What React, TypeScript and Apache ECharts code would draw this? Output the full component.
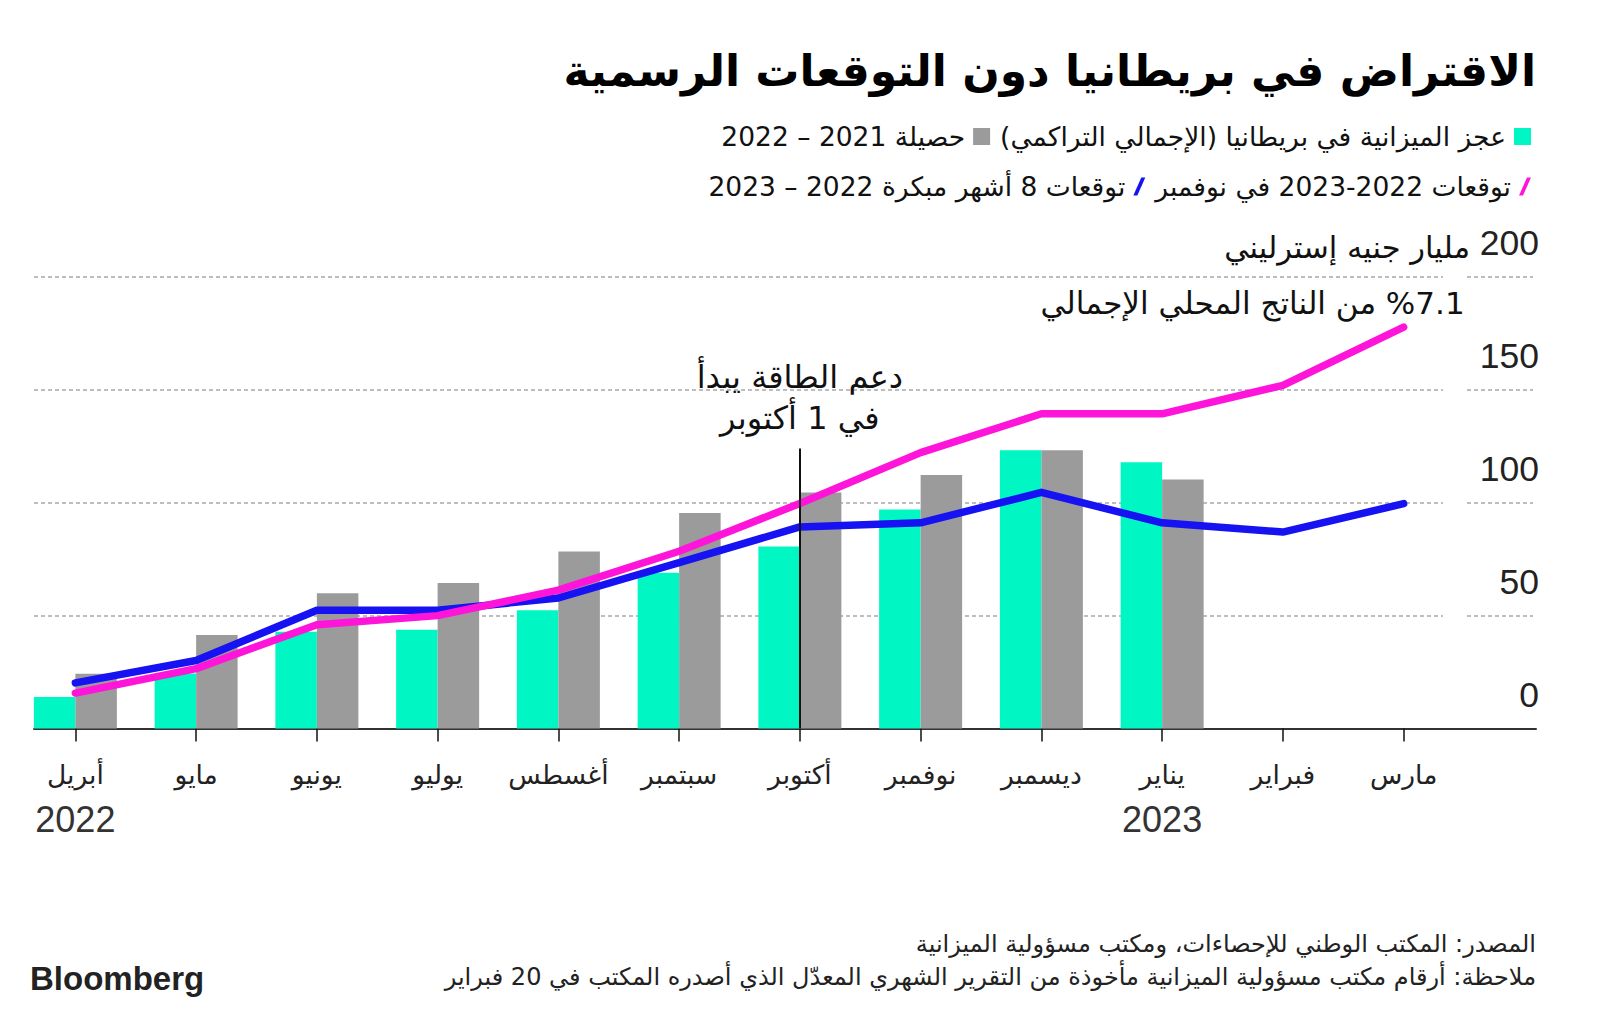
import React, { useEffect, useRef } from 'react';
import * as echarts from 'echarts';

// ---------- data ----------
const months = ['أبريل', 'مايو', 'يونيو', 'يوليو', 'أغسطس', 'سبتمبر', 'أكتوبر', 'نوفمبر', 'ديسمبر', 'يناير', 'فبراير', 'مارس'];
const years = ['2022', '', '', '', '', '', '', '', '', '2023', '', ''];
// cumulative borrowing 2022-23 (teal bars), £bn
const deficit2223 = [14.0, 24.4, 42.9, 43.7, 52.4, 69.0, 80.6, 97.0, 123.3, 117.9, null, null];
// cumulative borrowing 2021-22 (grey bars), £bn
const outturn2122 = [24.2, 41.4, 59.9, 64.4, 78.4, 95.5, 104.5, 112.3, 123.3, 110.3, null, null];
// OBR November forecast for 2022-23 (magenta line)
const forecastNov = [15.7, 26.5, 46.0, 50.0, 61.3, 78.5, 99.7, 122.2, 139.4, 139.4, 152.0, 177.8];
// OBR forecast 8 months earlier (blue line)
const forecastEarly = [20.2, 30.1, 52.4, 52.4, 57.8, 73.5, 89.3, 91.1, 104.6, 91.1, 87.0, 99.6];
const yMin = 0;
const yMax = 200;
const yStep = 50;

const NAME_TEAL = 'عجز الميزانية في بريطانيا (الإجمالي التراكمي)';
const NAME_GRAY = 'حصيلة 2021 – 2022';
const NAME_PINK = 'توقعات 2022-2023 في نوفمبر';
const NAME_BLUE = 'توقعات 8 أشهر مبكرة 2022 – 2023';

const TITLE = 'الاقتراض في بريطانيا دون التوقعات الرسمية';
const UNIT = 'مليار جنيه إسترليني';
const NOTE_ENERGY = ['دعم الطاقة يبدأ', 'في 1 أكتوبر'];
const NOTE_GDP = '%7.1 من الناتج المحلي الإجمالي';
const ENERGY_MONTH = 'أكتوبر';
const ENERGY_TOP = 124;
const SOURCE = 'المصدر: المكتب الوطني للإحصاءات، ومكتب مسؤولية الميزانية';
const NOTE = 'ملاحظة: أرقام مكتب مسؤولية الميزانية مأخوذة من التقرير الشهري المعدّل الذي أصدره المكتب في 20 فبراير';

const TEAL = '#00f7c4';
const GRAY = '#9b9b9b';
const PINK = '#ff14d9';
const BLUE = '#1712f2';

const RLM = '\u200F';
const rtl = (s: string) => RLM + s + RLM;

const AR = "'DejaVu Sans', 'Noto Sans', sans-serif";
const NUM = "'Liberation Sans', Arial, sans-serif";
const NUM_N = "'Liberation Sans Narrow', 'Liberation Sans', sans-serif";

const GRID_TOP = 277;
const GRID_H = 451.5;

export default function App() {
  const ref = useRef<HTMLDivElement>(null);
  useEffect(() => {
    document.body.style.margin = '0';
    const chart = echarts.init(ref.current!, null, { renderer: 'svg' });
    const hiddenX = (gi: number) => ({ gridIndex: gi, type: 'value', min: 0, max: 1, show: false });
    const gridY = (gi: number) => ({
      gridIndex: gi,
      type: 'value',
      min: yMin,
      max: yMax,
      interval: yStep,
      axisLine: { show: false },
      axisTick: { show: false },
      axisLabel: { show: false },
      splitLine: { show: true, showMinLine: false, lineStyle: { type: [4, 3], color: '#a8a8a8', width: 1.5 } },
    });
    const legendText = { fontSize: 26.5, fontFamily: AR, color: '#111', padding: [0, 3, 0, 0] };
    const option: any = {
      animation: false,
      backgroundColor: '#ffffff',
      grid: [
        { left: 15, width: 1449, top: GRID_TOP, height: GRID_H },
        { left: 34, width: 1409, top: GRID_TOP, height: GRID_H },
        { left: 1467, width: 66, top: GRID_TOP, height: GRID_H },
        { left: 34, width: 1502, top: GRID_TOP, height: GRID_H },
      ],
      legend: [
        {
          data: [NAME_GRAY, NAME_TEAL],
          right: 64,
          top: 118,
          align: 'right',
          icon: 'rect',
          itemWidth: 17,
          itemHeight: 17,
          itemGap: 10,
          selectedMode: false,
          formatter: (n: string) => rtl(n),
          textStyle: legendText,
        },
        {
          data: [
            { name: NAME_BLUE, icon: 'path://M8,0 L12,0 L4,18 L0,18 Z' },
            { name: NAME_PINK, icon: 'path://M8,0 L12,0 L4,18 L0,18 Z' },
          ],
          right: 64,
          top: 168,
          align: 'right',
          itemWidth: 12,
          itemHeight: 18,
          itemGap: 10,
          selectedMode: false,
          formatter: (n: string) => rtl(n),
          textStyle: legendText,
        },
      ],
      xAxis: [
        {
          gridIndex: 0,
          type: 'category',
          data: months,
          boundaryGap: true,
          axisLine: { show: false },
          axisTick: { show: true, alignWithLabel: true, length: 13, lineStyle: { color: '#111', width: 1.5 } },
          axisLabel: {
            interval: 0,
            margin: 31,
            formatter: (v: string, i: number) => `{m|${v}}` + (years[i] ? `\n{y|${years[i]}}` : ''),
            rich: {
              m: { fontSize: 26.5, fontFamily: AR, color: '#222', lineHeight: 30 },
              y: { fontSize: 36, fontFamily: NUM_N, color: '#333', lineHeight: 60 },
            },
          },
        },
        hiddenX(1),
        hiddenX(2),
        {
          gridIndex: 3,
          type: 'value',
          min: 0,
          max: 1,
          axisLine: { show: true, lineStyle: { color: '#333', width: 2 } },
          axisTick: { show: false },
          axisLabel: { show: false },
          splitLine: { show: false },
        },
      ],
      yAxis: [
        { gridIndex: 0, type: 'value', min: yMin, max: yMax, interval: yStep, show: false },
        gridY(1),
        {
          ...gridY(2),
          position: 'right',
          axisLabel: {
            show: true,
            inside: true,
            margin: -6,
            fontSize: 35.5,
            fontFamily: NUM,
            color: '#222',
            verticalAlign: 'bottom',
            lineHeight: 68,
          },
        },
        { gridIndex: 3, type: 'value', min: yMin, max: yMax, show: false },
      ],
      series: [
        {
          type: 'bar',
          name: NAME_TEAL,
          xAxisIndex: 0,
          yAxisIndex: 0,
          data: deficit2223,
          barWidth: 41.5,
          barGap: '0%',
          itemStyle: { color: TEAL },
        },
        {
          type: 'bar',
          name: NAME_GRAY,
          xAxisIndex: 0,
          yAxisIndex: 0,
          data: outturn2122,
          barWidth: 41.5,
          barGap: '0%',
          itemStyle: { color: GRAY },
        },
        {
          type: 'line',
          name: NAME_BLUE,
          xAxisIndex: 0,
          yAxisIndex: 0,
          data: forecastEarly,
          symbol: 'none',
          itemStyle: { color: BLUE },
          lineStyle: { color: BLUE, width: 7.5, cap: 'round', join: 'round' },
          markLine: {
            silent: true,
            symbol: ['none', 'none'],
            lineStyle: { color: '#111', width: 2, type: 'solid' },
            label: {
              show: true,
              position: 'end',
              distance: 10,
              formatter: NOTE_ENERGY.map(rtl).join('\n'),
              fontSize: 32,
              lineHeight: 41,
              fontFamily: AR,
              color: '#111',
              align: 'center',
            },
            data: [[{ coord: [ENERGY_MONTH, 0] }, { coord: [ENERGY_MONTH, ENERGY_TOP] }]],
          },
        },
        {
          type: 'line',
          name: NAME_PINK,
          xAxisIndex: 0,
          yAxisIndex: 0,
          data: forecastNov,
          symbol: 'none',
          itemStyle: { color: PINK },
          lineStyle: { color: PINK, width: 7.5, cap: 'round', join: 'round' },
          markPoint: {
            silent: true,
            symbol: 'circle',
            symbolSize: 1,
            itemStyle: { color: 'rgba(0,0,0,0)' },
            label: {
              show: true,
              position: 'top',
              align: 'right',
              offset: [61, -3],
              formatter: rtl(NOTE_GDP),
              fontSize: 31,
              fontFamily: AR,
              color: '#111',
            },
            data: [{ coord: [months[11], forecastNov[11]] }],
          },
        },
      ],
      graphic: [
        {
          type: 'text',
          x: 1536,
          y: 70,
          style: {
            text: rtl(TITLE),
            align: 'right',
            textAlign: 'right',
            verticalAlign: 'middle',
            textVerticalAlign: 'middle',
            fontSize: 44,
            fontWeight: 'bold',
            fontFamily: AR,
            fill: '#000',
          },
        },
        {
          type: 'text',
          x: 1470,
          y: 247,
          style: {
            text: rtl(UNIT),
            align: 'right',
            textAlign: 'right',
            verticalAlign: 'middle',
            textVerticalAlign: 'middle',
            fontSize: 30.5,
            fontFamily: AR,
            fill: '#111',
          },
        },
        {
          type: 'text',
          x: 1536,
          y: 944,
          style: {
            text: rtl(SOURCE),
            align: 'right',
            textAlign: 'right',
            verticalAlign: 'middle',
            textVerticalAlign: 'middle',
            fontSize: 24,
            fontFamily: AR,
            fill: '#222',
          },
        },
        {
          type: 'text',
          x: 1536,
          y: 977,
          style: {
            text: rtl(NOTE),
            align: 'right',
            textAlign: 'right',
            verticalAlign: 'middle',
            textVerticalAlign: 'middle',
            fontSize: 24,
            fontFamily: AR,
            fill: '#222',
          },
        },
        {
          type: 'text',
          x: 30,
          y: 978,
          style: {
            text: 'Bloomberg',
            align: 'left',
            textAlign: 'left',
            verticalAlign: 'middle',
            textVerticalAlign: 'middle',
            fontSize: 33,
            fontWeight: 'bold',
            fontFamily: NUM,
            fill: '#222',
          },
        },
      ],
    };
    chart.setOption(option);
    return () => chart.dispose();
  }, []);
  return <div ref={ref} style={{ position: 'fixed', left: 0, top: 0, width: 1600, height: 1011 }} />;
}
